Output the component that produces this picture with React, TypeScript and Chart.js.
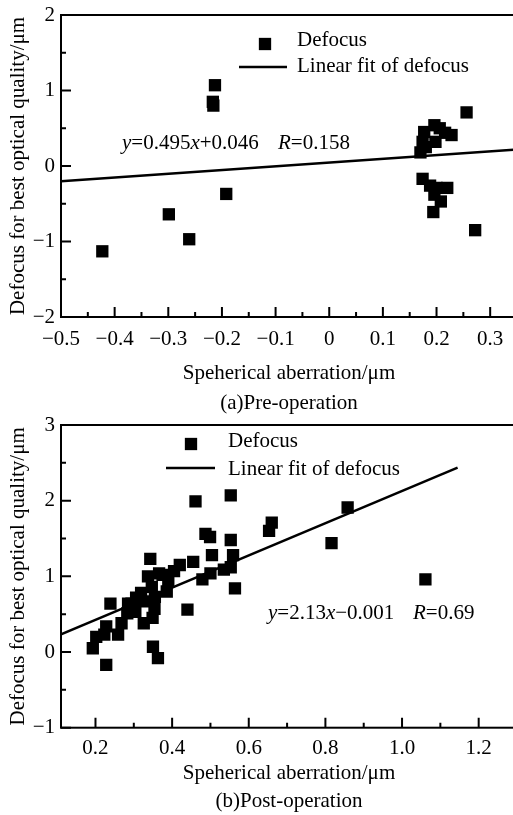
import React, { useEffect, useRef } from 'react';
import { Chart, registerables } from 'chart.js';

Chart.register(...registerables);

const FONT = '"Liberation Serif", "Times New Roman", Times, serif';

// ---------- Panel (a) Pre-operation ----------
const preX = [-0.423, -0.299, -0.261, -0.217, -0.216, -0.213, -0.192, 0.256, 0.272,
  0.196, 0.206, 0.177, 0.228, 0.216, 0.174, 0.198, 0.180, 0.170,
  0.174, 0.188, 0.200, 0.220, 0.196, 0.208, 0.194];
const preY = [-1.13, -0.64, -0.97, 0.85, 0.80, 1.07, -0.37, 0.71, -0.85,
  0.54, 0.50, 0.45, 0.41, 0.44, 0.32, 0.32, 0.25, 0.18,
  -0.17, -0.26, -0.29, -0.29, -0.38, -0.47, -0.61];
const preFitX = [-0.5, 0.35];
const preFitY = [-0.2015, 0.219];
const preXTicks = [-0.5, -0.4, -0.3, -0.2, -0.1, 0, 0.1, 0.2, 0.3];
const preXTickLabels = ['−0.5', '−0.4', '−0.3', '−0.2', '−0.1', '0', '0.1', '0.2', '0.3'];
const preXMinor = [-0.45, -0.35, -0.25, -0.15, -0.05, 0.05, 0.15, 0.25];
const preYTicks = [-2, -1, 0, 1, 2];
const preYTickLabels = ['−2', '−1', '0', '1', '2'];
const preYMinor = [-1.5, -0.5, 0.5, 1.5];

// ---------- Panel (b) Post-operation ----------
const postX = [0.553, 0.461, 0.858, 0.660, 0.653, 0.816, 0.487, 0.499, 0.553, 0.504,
  0.559, 0.455, 0.343, 1.061, 0.564, 0.440, 0.239, 0.535, 0.553, 0.500,
  0.479, 0.420, 0.405, 0.375, 0.337, 0.366, 0.347, 0.386, 0.390, 0.319,
  0.285, 0.306, 0.315, 0.354, 0.304, 0.349, 0.326, 0.228, 0.268, 0.259,
  0.202, 0.223, 0.193, 0.350, 0.363, 0.228, 0.283, 0.294, 0.355, 0.333];
const postY = [2.07, 1.99, 1.91, 1.71, 1.60, 1.44, 1.56, 1.52, 1.48, 1.28,
  1.28, 1.19, 1.23, 0.96, 0.84, 0.56, 0.64, 1.09, 1.12, 1.04,
  0.96, 1.15, 1.07, 1.02, 1.00, 1.04, 0.86, 0.80, 0.93, 0.78,
  0.64, 0.72, 0.69, 0.57, 0.53, 0.45, 0.38, 0.34, 0.38, 0.23,
  0.20, 0.23, 0.05, 0.07, -0.08, -0.17, 0.51, 0.64, 0.73, 0.67];
const postFitX = [0.11, 1.145];
const postFitY = [0.233, 2.438];
const postXTicks = [0.2, 0.4, 0.6, 0.8, 1.0, 1.2];
const postXTickLabels = ['0.2', '0.4', '0.6', '0.8', '1.0', '1.2'];
const postXMinor = [0.3, 0.5, 0.7, 0.9, 1.1];
const postYTicks = [-1, 0, 1, 2, 3];
const postYTickLabels = ['−1', '0', '1', '2', '3'];
const postYMinor = [-0.5, 0.5, 1.5, 2.5];

const X_TITLE = 'Speherical aberration/μm';
const Y_TITLE = 'Defocus for best optical quality/μm';
const LEGEND_POINTS = 'Defocus';
const LEGEND_LINE = 'Linear fit of defocus';

type Seg = [string, boolean];

type Spec = {
  xs: number[]; ys: number[]; fitX: number[]; fitY: number[];
  xMin: number; xMax: number; yMin: number; yMax: number;
  xTicks: number[]; xLabels: string[]; xMinor: number[];
  yTicks: number[]; yLabels: string[]; yMinor: number[];
  caption: string;
  eq1: Seg[]; eq2: Seg[];
  canvasH: number; canvasTop: number; padTop: number;
  xTickPad: number; xScaleH: number; capPadTop: number; capPadBottom: number;
  legend: { mx: number; my: number; t1y: number; lx0: number; lx1: number; ly: number; t2y: number; tx: number };
  eq: { x1: number; x2: number; y: number };
};

const SIZE = 21;
const POINT_R = 8.7;
const CANVAS_W = 517;

function makeDecor(spec: Spec) {
  return {
    id: 'decor',
    afterDraw(chart: any) {
      const { ctx, chartArea: a, scales } = chart;
      const xs = scales.x, ys = scales.y;
      ctx.save();
      ctx.strokeStyle = '#000';
      ctx.fillStyle = '#000';
      ctx.lineWidth = 2;
      ctx.strokeRect(a.left, a.top, a.right - a.left, a.bottom - a.top);
      ctx.beginPath();
      const tick = (vals: number[], len: number) => {
        for (const v of vals) {
          const px = xs.getPixelForValue(v);
          ctx.moveTo(px, a.bottom);
          ctx.lineTo(px, a.bottom - len);
        }
      };
      const ytick = (vals: number[], len: number) => {
        for (const v of vals) {
          const py = ys.getPixelForValue(v);
          ctx.moveTo(a.left, py);
          ctx.lineTo(a.left + len, py);
        }
      };
      tick(spec.xTicks, 10); tick(spec.xMinor, 5);
      ytick(spec.yTicks, 10); ytick(spec.yMinor, 5);
      ctx.stroke();

      // legend
      const L = spec.legend;
      const side = POINT_R * Math.SQRT2;
      ctx.fillRect(a.left + L.mx - side / 2, a.top + L.my - side / 2, side, side);
      ctx.lineWidth = 2.5;
      ctx.beginPath();
      ctx.moveTo(a.left + L.lx0, a.top + L.ly);
      ctx.lineTo(a.left + L.lx1, a.top + L.ly);
      ctx.stroke();
      ctx.textBaseline = 'middle';
      ctx.textAlign = 'left';
      ctx.font = `${SIZE}px ${FONT}`;
      ctx.fillText(LEGEND_POINTS, a.left + L.tx, a.top + L.t1y);
      ctx.fillText(LEGEND_LINE, a.left + L.tx, a.top + L.t2y);

      const drawSegs = (segs: Seg[], x: number, y: number) => {
        let cx = x;
        for (const [t, it] of segs) {
          ctx.font = `${it ? 'italic ' : ''}${SIZE}px ${FONT}`;
          ctx.fillText(t, cx, y);
          cx += ctx.measureText(t).width;
        }
      };
      drawSegs(spec.eq1, a.left + spec.eq.x1, a.top + spec.eq.y);
      drawSegs(spec.eq2, a.left + spec.eq.x2, a.top + spec.eq.y);
      ctx.restore();
    },
  };
}

function Panel({ spec }: { spec: Spec }) {
  const ref = useRef<HTMLCanvasElement>(null);
  useEffect(() => {
    const font = { family: FONT, size: SIZE, weight: 'normal' as const };
    const chart = new Chart(ref.current!, {
      type: 'scatter',
      data: {
        datasets: [
          {
            label: LEGEND_POINTS,
            data: spec.xs.map((x, i) => ({ x, y: spec.ys[i] })),
            pointStyle: 'rect',
            pointRadius: POINT_R,
            pointHoverRadius: POINT_R,
            backgroundColor: '#000',
            borderColor: '#000',
            borderWidth: 0,
            showLine: false,
          },
          {
            label: LEGEND_LINE,
            type: 'line',
            data: spec.fitX.map((x, i) => ({ x, y: spec.fitY[i] })),
            showLine: true,
            borderColor: '#000',
            borderWidth: 2.5,
            pointRadius: 0,
            fill: false,
            tension: 0,
          } as any,
        ],
      },
      options: {
        responsive: false,
        maintainAspectRatio: false,
        animation: false,
        events: [],
        layout: { autoPadding: false, padding: { top: spec.padTop, left: 0, right: 0, bottom: 0 } },
        scales: {
          x: {
            type: 'linear',
            position: 'bottom',
            min: spec.xMin,
            max: spec.xMax,
            grid: { display: false, drawTicks: false },
            border: { display: false },
            afterBuildTicks: (s: any) => { s.ticks = spec.xTicks.map((v) => ({ value: v })); },
            afterFit: (s: any) => { s.height = spec.xScaleH; s.paddingLeft = 0; s.paddingRight = 0; },
            ticks: {
              padding: spec.xTickPad,
              color: '#000',
              font,
              maxRotation: 0,
              autoSkip: false,
              callback: (_v: any, i: number) => spec.xLabels[i],
            },
            title: {
              display: true,
              text: X_TITLE,
              color: '#000',
              font,
              padding: { top: 0, bottom: 0 },
            },
          },
          y: {
            type: 'linear',
            position: 'left',
            min: spec.yMin,
            max: spec.yMax,
            grid: { display: false, drawTicks: false },
            border: { display: false },
            afterBuildTicks: (s: any) => { s.ticks = spec.yTicks.map((v) => ({ value: v })); },
            afterFit: (s: any) => { s.width = 61; s.paddingTop = 0; s.paddingBottom = 0; },
            ticks: {
              padding: 6,
              color: '#000',
              font,
              autoSkip: false,
              callback: (_v: any, i: number) => spec.yLabels[i],
            },
            title: {
              display: true,
              text: Y_TITLE,
              color: '#000',
              font,
              padding: { top: 5.4, bottom: 0 },
            },
          },
        },
        plugins: {
          legend: { display: false },
          tooltip: { enabled: false },
          title: {
            display: true,
            position: 'bottom',
            fullSize: false,
            text: spec.caption,
            color: '#000',
            font,
            padding: { top: spec.capPadTop, bottom: spec.capPadBottom },
          },
        },
      },
      plugins: [makeDecor(spec)],
    });
    return () => chart.destroy();
  }, [spec]);
  return (
    <canvas
      ref={ref}
      width={CANVAS_W}
      height={spec.canvasH}
      style={{ position: 'absolute', left: 0, top: spec.canvasTop, width: CANVAS_W, height: spec.canvasH, display: 'block' }}
    />
  );
}

const preSpec: Spec = {
  xs: preX, ys: preY, fitX: preFitX, fitY: preFitY,
  xMin: -0.5, xMax: 0.35, yMin: -2, yMax: 2,
  xTicks: preXTicks, xLabels: preXTickLabels, xMinor: preXMinor,
  yTicks: preYTicks, yLabels: preYTickLabels, yMinor: preYMinor,
  caption: '(a)Pre-operation',
  eq1: [['y', true], ['=0.495', false], ['x', true], ['+0.046', false]],
  eq2: [['R', true], ['=0.158', false]],
  canvasH: 420, canvasTop: 0, padTop: 15,
  xTickPad: 10, xScaleH: 68.6, capPadTop: 4.8, capPadBottom: 4.4,
  legend: { mx: 204, my: 29, t1y: 25, lx0: 178, lx1: 226, ly: 52, t2y: 51, tx: 236 },
  eq: { x1: 61, x2: 217, y: 128 },
};

const postSpec: Spec = {
  xs: postX, ys: postY, fitX: postFitX, fitY: postFitY,
  xMin: 0.11, xMax: 1.3, yMin: -1, yMax: 3,
  xTicks: postXTicks, xLabels: postXTickLabels, xMinor: postXMinor,
  yTicks: postYTicks, yLabels: postYTickLabels, yMinor: postYMinor,
  caption: '(b)Post-operation',
  eq1: [['y', true], ['=2.13', false], ['x', true], ['−0.001', false]],
  eq2: [['R', true], ['=0.69', false]],
  canvasH: 400, canvasTop: 415, padTop: 10,
  xTickPad: 8, xScaleH: 57.9, capPadTop: 2.8, capPadBottom: 1.4,
  legend: { mx: 130, my: 19, t1y: 16, lx0: 105, lx1: 154, ly: 43, t2y: 44, tx: 167 },
  eq: { x1: 207, x2: 352, y: 188 },
};

export default function App() {
  return (
    <div style={{ position: 'fixed', left: 0, top: 0, width: 513, height: 815, overflow: 'hidden', background: '#fff' }}>
      <Panel spec={preSpec} />
      <Panel spec={postSpec} />
    </div>
  );
}
